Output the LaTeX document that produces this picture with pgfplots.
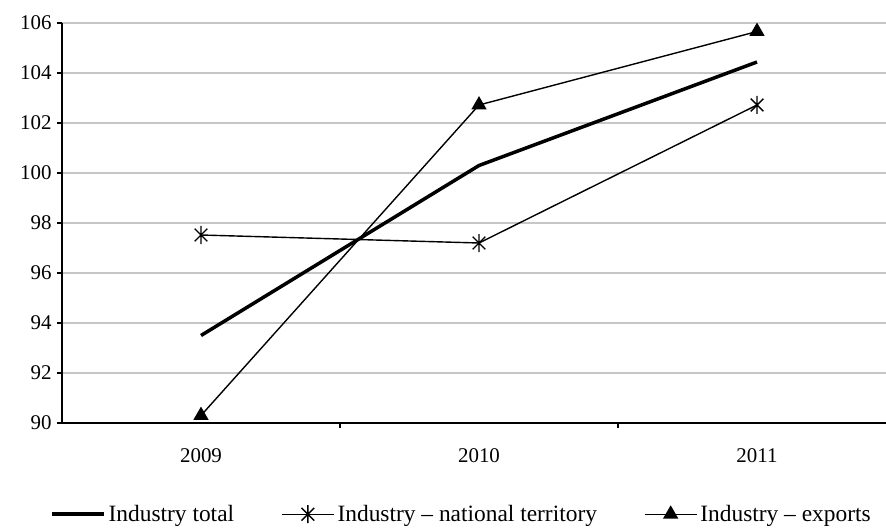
\documentclass[border=0pt]{standalone}
\usepackage{pgfplots}
\pgfplotsset{compat=1.18}
\usepackage{fontspec}
\setmainfont{Liberation Serif}
\pgfdeclareplotmark{myast}{%
  \pgfpathmoveto{\pgfqpoint{-0.7071\pgfplotmarksize}{-0.7071\pgfplotmarksize}}%
  \pgfpathlineto{\pgfqpoint{0.7071\pgfplotmarksize}{0.7071\pgfplotmarksize}}%
  \pgfpathmoveto{\pgfqpoint{-0.7071\pgfplotmarksize}{0.7071\pgfplotmarksize}}%
  \pgfpathlineto{\pgfqpoint{0.7071\pgfplotmarksize}{-0.7071\pgfplotmarksize}}%
  \pgfpathmoveto{\pgfqpoint{0pt}{-\pgfplotmarksize}}%
  \pgfpathlineto{\pgfqpoint{0pt}{\pgfplotmarksize}}%
  \pgfusepathqstroke}
\begin{document}
\begin{tikzpicture}
\begin{axis}[
  scale only axis,
  width=824bp, height=400bp,
  xmin=-0.5, xmax=2.464,
  ymin=90, ymax=106,
  ytick={90,92,...,106},
  axis x line=bottom, axis y line=left,
  axis line style={-, line width=1.3bp, black},
  tick align=outside,
  major tick length=5bp,
  tick style={line width=1.3bp, black},
  xtick={0.5,1.5}, xticklabels={},
  extra x ticks={0,1,2},
  extra x tick labels={2009,2010,2011},
  extra x tick style={major tick length=0pt, grid=none},
  ymajorgrids,
  grid style={line width=1.3bp, gray!45},
  /pgf/number format/assume math mode=true,
  ticklabel style={font=\fontsize{21}{25}\selectfont},
  xticklabel style={yshift=-22bp},
  yticklabel style={xshift=-2bp},
  clip=false,
  legend columns=3,
  legend cell align=left,
  legend style={at={(axis description cs:-0.0146,-0.228)}, anchor=west,
    draw=none, fill=none, inner sep=0pt,
    nodes={inner xsep=3bp, inner ysep=0pt},
    font=\fontsize{23.5}{28}\selectfont,
    /tikz/every even column/.append style={column sep=44bp}},
  legend image code/.code={%
    \draw[mark repeat=2,mark phase=2] plot coordinates {(0bp,0bp)(26bp,0bp)(52bp,0bp)};},
]
\addplot[black, line width=3.5bp, mark=none] coordinates {(0,93.5) (1,100.3) (2,104.44)};
\addlegendentry{Industry total}
\addplot[black, line width=1.4bp, mark=myast, mark size=9bp, mark options={line width=1.4bp}] coordinates {(0,97.52) (1,97.2) (2,102.72)};
\addlegendentry{Industry -- national territory}
\addplot[black, line width=1.4bp, mark=triangle*, mark size=7.5bp] coordinates {(0,90.3) (1,102.72) (2,105.66)};
\addlegendentry{Industry -- exports}
\end{axis}
\pgfresetboundingbox
\path[use as bounding box] ([shift={(-62bp,-106bp)}]current axis.south west) rectangle ([shift={(0bp,23bp)}]current axis.north east);
\end{tikzpicture}
\end{document}
